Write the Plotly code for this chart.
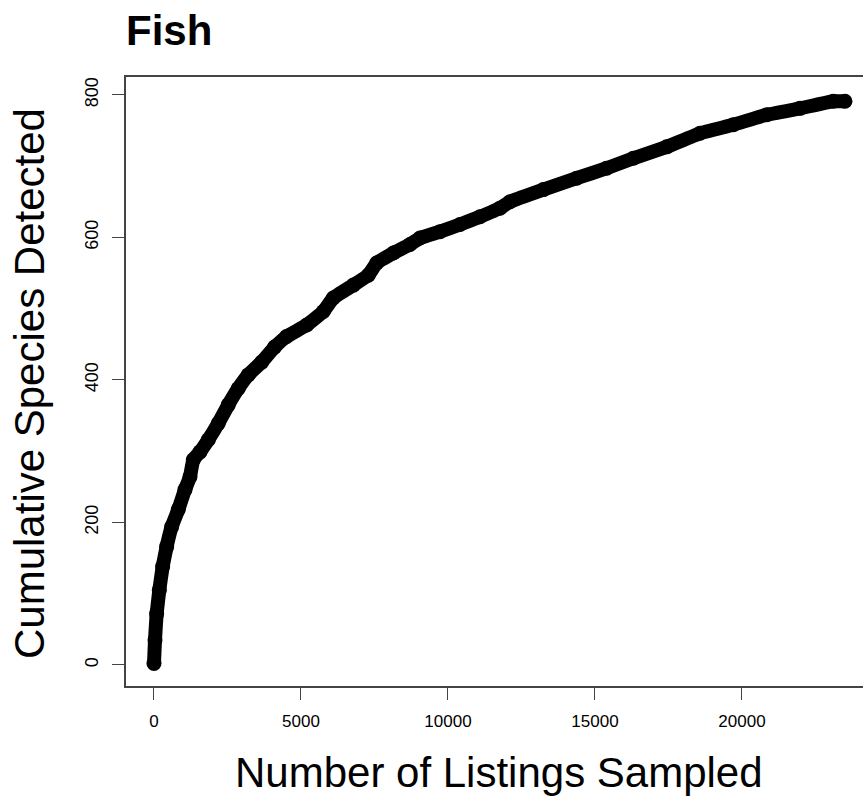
import plotly.graph_objects as go

# Data (cumulative species vs listings sampled)
listings = [0, 34, 91, 181, 295, 431, 601, 827, 1054, 1224, 1337, 1565, 1847,
            2187, 2527, 2867, 3207, 3663, 4100, 4514, 5194, 5760, 6099, 6780,
            7290, 7574, 8141, 8707, 9048, 9728, 10408, 11088, 11769, 12109,
            13243, 14376, 15397, 16303, 17438, 18571, 19704, 20839, 21973,
            23106, 23503]
species = [2, 35, 72, 105, 138, 166, 194, 218, 246, 264, 288, 299, 316,
           339, 365, 388, 407, 425, 446, 461, 477, 496, 515, 533,
           547, 564, 578, 590, 599, 608, 618, 629, 641, 650,
           667, 683, 697, 711, 727, 746, 758, 772, 781,
           791, 791]

x_ticks = [0, 5000, 10000, 15000, 20000]
y_ticks = [0, 200, 400, 600, 800]

title_text = "Fish"
x_title = "Number of Listings Sampled"
y_title = "Cumulative Species Detected"

FONT = "Liberation Sans, Arial, Helvetica, sans-serif"

W, H = 863, 798
ML, MR, MT, MB = 126, 0, 77, 112
PW = W - ML - MR
PH = H - MT - MB

fig = go.Figure()
fig.add_trace(go.Scatter(
    x=listings, y=species, mode="lines+markers",
    line=dict(color="black", width=14, shape="spline", smoothing=0.3),
    marker=dict(color="black", size=15),
    hoverinfo="x+y", showlegend=False,
))

fig.update_layout(
    width=W, height=H,
    margin=dict(l=ML, r=MR, t=MT, b=MB, pad=0),
    paper_bgcolor="white", plot_bgcolor="white",
    font=dict(family=FONT, color="black"),
    title=dict(text="<b>" + title_text + "</b>", x=126 / W, xanchor="left",
               y=1 - 30 / H, yanchor="middle", xref="container", yref="container",
               font=dict(family=FONT, size=42, color="black")),
    xaxis=dict(range=[-952, 24116], tickmode="array", tickvals=x_ticks,
               ticktext=[str(v) for v in x_ticks],
               showgrid=False, zeroline=False, showline=True, mirror=True,
               linecolor="#444", linewidth=1.5,
               ticks="outside", ticklen=12, tickwidth=1.2, tickcolor="#444",
               tickfont=dict(family=FONT, size=17, color="black"),
               ticklabelstandoff=7),
    yaxis=dict(range=[-29.5, 825], tickmode="array", tickvals=y_ticks,
               ticktext=[str(v) for v in y_ticks],
               showgrid=False, zeroline=False, showline=True, mirror=False,
               linecolor="#444", linewidth=1.5,
               ticks="outside", ticklen=12, tickwidth=1.2, tickcolor="#444",
               tickangle=-90,
               tickfont=dict(family=FONT, size=18, color="black"),
               ticklabelstandoff=7),
)

fig.add_annotation(text=x_title, xref="paper", yref="paper",
                   x=(499 - ML) / PW, y=(H - MB - 772) / PH,
                   xanchor="center", yanchor="middle", showarrow=False,
                   font=dict(family=FONT, size=42, color="black"))
fig.add_annotation(text=y_title, xref="paper", yref="paper",
                   x=(30 - ML) / PW, y=(H - MB - 384) / PH,
                   xanchor="center", yanchor="middle", showarrow=False,
                   textangle=-90,
                   font=dict(family=FONT, size=42, color="black"))

fig.write_html("out.html", config={"displayModeBar": False},
               post_script="document.body.style.margin='0';document.body.style.overflow='hidden';")
